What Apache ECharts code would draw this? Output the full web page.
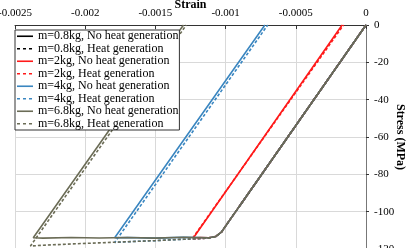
<!DOCTYPE html>
<html>
<head>
<meta charset="utf-8">
<script src="https://cdn.jsdelivr.net/npm/echarts@6/dist/echarts.min.js"></script>
<style>html,body{margin:0;padding:0;background:#fff;}#c{width:409px;height:248px;}</style>
</head>
<body>
<div id="c"></div>
<script>
const xTickLabels = ['-0.0025', '-0.002', '-0.0015', '-0.001', '-0.0005', '0'];
const yTickLabels = ['-120', '-100', '-80', '-60', '-40', '-20', '0'];

const seriesNames = [
  'm=0.8kg, No heat generation', 'm=0.8kg, Heat generation',
  'm=2kg, No heat generation', 'm=2kg, Heat generation',
  'm=4kg, No heat generation', 'm=4kg, Heat generation',
  'm=6.8kg, No heat generation', 'm=6.8kg, Heat generation'
];

const strainM08No = [0, -0.00090, 0];
const stressM08No = [0, -97, 0];
const strainM08Heat = [0, -0.00090, 0];
const stressM08Heat = [0, -97, 0];

const strainM2No = [0, -0.00098, -0.00103, -0.00107, -0.00112, -0.00118, -0.00123, -0.00017];
const stressM2No = [0, -105.5, -111, -113.3, -114, -113.8, -114.1, 0];
const strainM2Heat = [0, -0.00098, -0.00103, -0.00107, -0.00113, -0.00118, -0.00124, -0.00016];
const stressM2Heat = [0, -105.5, -111, -113.3, -114.2, -114.4, -114.7, 0];

const strainM4No = [0, -0.00098, -0.00103, -0.00107, -0.00112, -0.0013, -0.0015, -0.0017, -0.00179, -0.00072];
const stressM4No = [0, -105.5, -111, -113.3, -114, -113.7, -114.2, -113.8, -114, 0];
const strainM4Heat = [0, -0.00098, -0.00103, -0.00107, -0.00112, -0.0013, -0.0015, -0.0017, -0.00179, -0.00070];
const stressM4Heat = [0, -105.5, -111, -113.3, -114.2, -114.8, -115.5, -116.1, -116.5, 0];

const strainM68No = [0, -0.00098, -0.00103, -0.00107, -0.00112, -0.0013, -0.0015, -0.0017, -0.0019, -0.0021, -0.0023, -0.00237, -0.00130];
const stressM68No = [0, -105.5, -111, -113.3, -114, -113.7, -114.2, -113.8, -114.1, -113.8, -114.2, -114, 0];
const strainM68Heat = [0, -0.00098, -0.00103, -0.00107, -0.00112, -0.0013, -0.0015, -0.0017, -0.0019, -0.0021, -0.0023, -0.00239, -0.00128];
const stressM68Heat = [0, -105.5, -111, -113.3, -114.2, -114.8, -115.5, -116.1, -116.7, -117.3, -118, -118.4, 0];

const strainSets = [strainM08No, strainM08Heat, strainM2No, strainM2Heat, strainM4No, strainM4Heat, strainM68No, strainM68Heat];
const stressSets = [stressM08No, stressM08Heat, stressM2No, stressM2Heat, stressM4No, stressM4Heat, stressM68No, stressM68Heat];
const colors = ['#000000', '#000000', '#ff1a1a', '#ff1a1a', '#3a86c0', '#3a86c0', '#6b6c56', '#6b6c56'];

const FONT = 'Liberation Serif';
const SOLID_ICON = 'path://M0,0 L16,0 L16,1.6 L0,1.6 Z';
const DASH_ICON = 'path://M0,0 L3,0 L3,1.6 L0,1.6 Z M6,0 L9,0 L9,1.6 L6,1.6 Z M12,0 L15,0 L15,1.6 L12,1.6 Z M16,0 L16.01,0 L16.01,1.6 L16,1.6 Z';

function pair(xs, ys) { return xs.map((x, i) => [x, ys[i]]); }

const series = seriesNames.map((name, i) => ({
  name: name,
  type: 'line',
  symbol: 'none',
  showSymbol: false,
  data: pair(strainSets[i], stressSets[i]),
  lineStyle: { color: colors[i], width: 1.6, type: (i % 2 === 1) ? [3, 2] : 'solid' },
  itemStyle: { color: colors[i] },
  emphasis: { disabled: true },
  animation: false,
  z: 2
}));

const chart = echarts.init(document.getElementById('c'));
chart.setOption({
  animation: false,
  grid: { left: 15, right: 43, top: 25, bottom: -1, containLabel: false, outerBoundsMode: 'none' },
  xAxis: {
    type: 'value', position: 'top', min: -0.0025, max: 0, interval: 0.0005,
    name: 'Strain', nameLocation: 'middle', nameGap: 14, nameMoveOverlap: false,
    nameTextStyle: { fontFamily: FONT, fontWeight: 'bold', fontSize: 12, color: '#000' },
    axisLine: { show: true, onZero: false, lineStyle: { color: '#333', width: 1 } },
    axisTick: { show: true, inside: true, length: 4, lineStyle: { color: '#333' } },
    axisLabel: { fontFamily: FONT, fontSize: 11, color: '#000', margin: 6,
      formatter: v => xTickLabels[Math.round((v + 0.0025) / 0.0005)] },
    splitLine: { show: true, lineStyle: { color: '#d9d9d9', width: 1 } }
  },
  yAxis: {
    type: 'value', position: 'right', min: -120, max: 0, interval: 20,
    name: 'Stress (MPa)', nameLocation: 'middle', nameGap: 28, nameRotate: -90, nameMoveOverlap: false,
    nameTextStyle: { fontFamily: FONT, fontWeight: 'bold', fontSize: 12, color: '#000' },
    axisLine: { show: true, onZero: false, lineStyle: { color: '#777', width: 1 } },
    axisTick: { show: true, inside: false, length: 3, lineStyle: { color: '#333' } },
    axisLabel: { fontFamily: FONT, fontSize: 11, color: '#000', margin: 8,
      formatter: v => yTickLabels[Math.round((v + 120) / 20)] },
    splitLine: { show: true, lineStyle: { color: '#d9d9d9', width: 1 } }
  },
  legend: {
    orient: 'vertical', left: 15, top: 30,
    backgroundColor: '#fff', borderColor: '#333', borderWidth: 1,
    padding: [0, 1, 0, 2], itemGap: 0, itemWidth: 16, itemHeight: 12,
    textStyle: { fontFamily: FONT, fontSize: 12, color: '#000', lineHeight: 12.5 },
    data: seriesNames.map((n, i) => ({ name: n, icon: (i % 2 === 1) ? DASH_ICON : SOLID_ICON })),
    z: 10
  },
  series: series
});
</script>
</body>
</html>
